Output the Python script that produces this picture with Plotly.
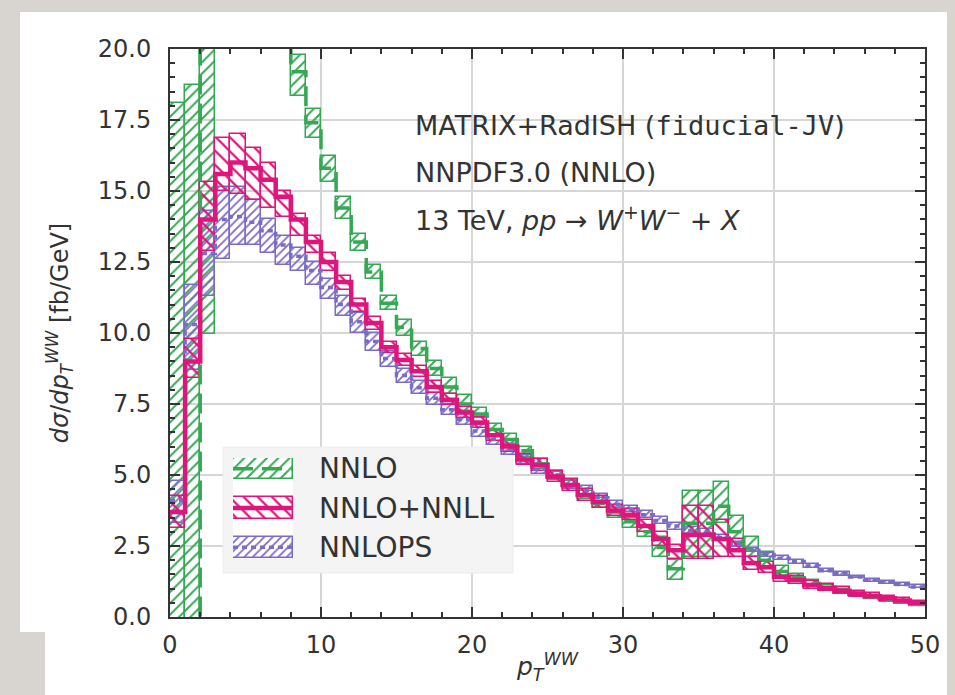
import plotly.graph_objects as go

# ---------------- data ----------------
bin_edges = list(range(0, 51))  # pT^WW bins, 1 GeV wide

# NNLO (green): central, lower, upper
nnlo = [-3.0, -3.0, 26.0, 32.0, 30.0, 27.0, 24.0, 21.5, 19.2, 17.4,
        15.8, 14.4, 13.2, 12.15, 11.05, 10.2, 9.45, 8.75, 8.1, 7.5,
        7.15, 6.6, 6.25, 5.85, 5.4, 5.0, 4.65, 4.3, 4.0, 3.7,
        3.35, 3.0, 2.45, 1.7, 3.3, 3.3, 3.9, 3.0, 2.4, 2.0,
        1.6, 1.38, 1.18, 1.03, 0.9, 0.79, 0.69, 0.6, 0.52, 0.44]
nnlo_lo = [-8.0, -8.0, 9.95, 30.5, 28.5, 25.5, 22.5, 20.6, 18.35, 16.85,
           15.3, 14.0, 12.9, 11.9, 10.8, 9.9, 9.2, 8.5, 7.85, 7.25,
           7.0, 6.4, 6.05, 5.65, 5.2, 4.85, 4.5, 4.15, 3.85, 3.5,
           3.15, 2.8, 2.1, 1.3, 2.1, 2.1, 3.3, 2.6, 2.1, 1.75,
           1.45, 1.25, 1.07, 0.93, 0.81, 0.71, 0.62, 0.54, 0.46, 0.39]
nnlo_hi = [18.1, 18.75, 40.0, 33.5, 31.5, 28.5, 25.5, 22.4, 19.8, 17.9,
           16.25, 14.8, 13.5, 12.4, 11.3, 10.45, 9.7, 9.0, 8.4, 7.8,
           7.35, 6.8, 6.45, 6.0, 5.55, 5.15, 4.8, 4.45, 4.2, 3.85,
           3.5, 3.2, 2.8, 2.0, 4.45, 4.45, 4.75, 3.55, 2.8, 2.3,
           1.78, 1.52, 1.3, 1.14, 1.0, 0.88, 0.77, 0.67, 0.58, 0.5]

# NNLO+NNLL (pink)
nnll = [3.7, 9.0, 14.0, 15.6, 16.0, 15.8, 15.4, 14.8, 14.0, 13.2,
        12.5, 11.8, 11.0, 10.35, 9.5, 9.05, 8.65, 8.1, 7.65, 7.2,
        6.85, 6.4, 6.0, 5.55, 5.35, 4.95, 4.65, 4.3, 4.05, 3.75,
        3.6, 3.2, 2.75, 2.35, 2.9, 2.9, 2.75, 2.35, 1.9, 1.75,
        1.42, 1.3, 1.13, 1.03, 0.92, 0.81, 0.73, 0.66, 0.58, 0.5]
nnll_lo = [3.15, 8.4, 12.9, 15.0, 14.9, 14.7, 14.4, 14.1, 13.4, 12.8,
           12.2, 11.5, 10.75, 10.1, 9.3, 8.85, 8.45, 7.9, 7.45, 7.0,
           6.65, 6.2, 5.8, 5.35, 5.15, 4.75, 4.45, 4.1, 3.85, 3.55,
           3.4, 3.0, 2.5, 2.05, 2.05, 2.05, 2.1, 2.1, 1.65, 1.55,
           1.25, 1.15, 1.0, 0.9, 0.8, 0.7, 0.63, 0.56, 0.49, 0.42]
nnll_hi = [4.25, 9.8, 15.3, 16.85, 17.0, 16.5, 16.0, 15.0, 14.2, 13.4,
           12.8, 12.0, 11.2, 10.55, 9.7, 9.25, 8.85, 8.3, 7.85, 7.4,
           7.05, 6.6, 6.2, 5.75, 5.55, 5.15, 4.85, 4.5, 4.25, 3.95,
           3.8, 3.4, 3.0, 2.55, 3.9, 3.9, 3.4, 2.75, 2.1, 1.95,
           1.58, 1.45, 1.27, 1.16, 1.04, 0.92, 0.83, 0.75, 0.67, 0.58]

# NNLOPS (purple)
nnlops = [4.1, 10.3, 12.8, 14.0, 14.1, 13.9, 13.6, 13.1, 12.7, 12.2,
          11.6, 11.0, 10.4, 9.7, 9.1, 8.5, 8.07, 7.7, 7.3, 6.95,
          6.55, 6.25, 5.9, 5.55, 5.2, 4.97, 4.67, 4.45, 4.2, 3.97,
          3.8, 3.6, 3.4, 3.2, 3.05, 3.0, 2.8, 2.55, 2.35, 2.2,
          2.07, 1.95, 1.8, 1.63, 1.52, 1.41, 1.3, 1.22, 1.14, 1.06]
nnlops_lo = [3.3, 8.7, 11.3, 12.6, 13.1, 13.1, 12.8, 12.4, 12.2, 11.7,
             11.2, 10.6, 10.0, 9.35, 8.8, 8.25, 7.85, 7.45, 7.1, 6.75,
             6.35, 6.05, 5.72, 5.38, 5.05, 4.82, 4.52, 4.3, 4.06, 3.84,
             3.68, 3.48, 3.28, 3.08, 2.94, 2.89, 2.7, 2.47, 2.28, 2.13,
             2.0, 1.88, 1.74, 1.57, 1.46, 1.36, 1.25, 1.17, 1.09, 1.01]
nnlops_hi = [4.8, 11.7, 14.3, 15.15, 15.15, 14.7, 14.0, 13.4, 13.0, 12.5,
             11.9, 11.3, 10.7, 10.0, 9.35, 8.75, 8.3, 7.9, 7.5, 7.15,
             6.75, 6.42, 6.08, 5.72, 5.38, 5.12, 4.82, 4.6, 4.34, 4.1,
             3.92, 3.72, 3.52, 3.32, 3.16, 3.11, 2.9, 2.63, 2.42, 2.27,
             2.14, 2.02, 1.86, 1.69, 1.58, 1.46, 1.35, 1.27, 1.19, 1.11]

legend_labels = ["NNLO", "NNLO+NNLL", "NNLOPS"]
legend_rows = [0, -1, -2]

# ---------------- styling ----------------
FONT = "DejaVu Sans"
TXT = "#333333"
GREEN, PINK, PURPLE = "#35a854", "#e0157b", "#7a6cc5"

W, H = 955, 695
ML, MR, MT, MB = 170, 30, 49, 78
PW, PH = W - ML - MR, H - MT - MB
X_RANGE, Y_RANGE = [0, 50], [0, 20]


def px_x(px):
    return (px - ML) / PW


def px_y(py):
    return (H - MB - py) / PH


def px_to_xdata(px):
    return X_RANGE[0] + px_x(px) * (X_RANGE[1] - X_RANGE[0])


def px_to_ydata(py):
    return Y_RANGE[0] + px_y(py) * (Y_RANGE[1] - Y_RANGE[0])


series = {
    "NNLO": dict(c=nnlo, lo=nnlo_lo, hi=nnlo_hi, color=GREEN, shape="/",
                 size=8, sol=0.25, dash="20px,9px", lw=3.5),
    "NNLO+NNLL": dict(c=nnll, lo=nnll_lo, hi=nnll_hi, color=PINK, shape="\\",
                      size=10, sol=0.22, dash="solid", lw=4.5),
    "NNLOPS": dict(c=nnlops, lo=nnlops_lo, hi=nnlops_hi, color=PURPLE, shape="/",
                   size=6, sol=0.3, dash="5px,4px", lw=3.5),
}
draw_order = ["NNLO", "NNLOPS", "NNLO+NNLL"]

centers = [(a + b) / 2 for a, b in zip(bin_edges[:-1], bin_edges[1:])]
widths = [b - a for a, b in zip(bin_edges[:-1], bin_edges[1:])]


def band_marker(s):
    return dict(
        color=s["color"],
        pattern=dict(shape=s["shape"], size=s["size"], solidity=s["sol"],
                     fgcolor=s["color"], bgcolor="rgba(0,0,0,0)", fillmode="replace"),
        line=dict(color=s["color"], width=1.5),
    )


fig = go.Figure()

# uncertainty bands (hatched boxes per bin)
for name in draw_order:
    s = series[name]
    fig.add_trace(go.Bar(
        x=centers, base=s["lo"], y=[h - l for h, l in zip(s["hi"], s["lo"])],
        width=widths, marker=band_marker(s), name=name,
        showlegend=False, hoverinfo="skip",
    ))

# central step lines
for name in draw_order:
    s = series[name]
    fig.add_trace(go.Scatter(
        x=bin_edges, y=s["c"] + [s["c"][-1]], mode="lines", name=name,
        line=dict(shape="hv", color=s["color"], width=s["lw"], dash=s["dash"]),
        showlegend=False, hoverinfo="skip",
    ))

# custom legend swatches on a small helper subplot
for label, row in zip(legend_labels, legend_rows):
    s = series[label]
    fig.add_trace(go.Bar(
        x=[1], y=[row], base=[0], orientation="h", width=0.54,
        marker=band_marker(s), xaxis="x2", yaxis="y2",
        showlegend=False, hoverinfo="skip",
    ))
    fig.add_trace(go.Scatter(
        x=[0, 1], y=[row, row], mode="lines", xaxis="x2", yaxis="y2",
        line=dict(color=s["color"], width=s["lw"], dash=s["dash"]),
        showlegend=False, hoverinfo="skip",
    ))
    fig.add_annotation(
        x=px_x(317), y=row, xref="paper", yref="y2", text=label,
        showarrow=False, xanchor="left", yanchor="middle",
        font=dict(family=FONT, size=28, color=TXT),
    )

# text block
info_lines = [
    "MATRIX+RadISH (<span style=\"font-family:DejaVu Sans Mono\">fiducial-JV</span>)",
    "NNPDF3.0 (NNLO)",
    "13 TeV, <i>pp</i> → <i>W</i><sup>+</sup><i>W</i><sup>−</sup> + <i>X</i>",
]
info_y = [126, 172, 218]
for txt, py in zip(info_lines, info_y):
    fig.add_annotation(
        x=px_x(413), y=px_y(py), xref="paper", yref="paper", text=txt,
        showarrow=False, xanchor="left", yanchor="middle",
        font=dict(family=FONT, size=27, color=TXT),
    )

# slide-like white background and legend box
fig.add_shape(type="rect", xref="paper", yref="paper", layer="below",
              x0=px_x(20), x1=px_x(947), y0=px_y(632), y1=px_y(12),
              fillcolor="white", line=dict(width=0))
fig.add_shape(type="rect", xref="paper", yref="paper", layer="below",
              x0=px_x(45), x1=px_x(947), y0=px_y(695), y1=px_y(631),
              fillcolor="white", line=dict(width=0))
fig.add_shape(type="rect", xref="x", yref="y", layer="between",
              x0=px_to_xdata(223), x1=px_to_xdata(513),
              y0=px_to_ydata(573), y1=px_to_ydata(447),
              fillcolor="#f4f4f4", line=dict(color="#ececec", width=1))

axis_common = dict(
    showline=True, linecolor="#333333", linewidth=2, mirror="allticks",
    ticks="inside", tickcolor="#333333", tickwidth=2, ticklen=10,
    showgrid=True, gridcolor="#d6d6d6", gridwidth=1.5, zeroline=False,
    tickfont=dict(family=FONT, size=24, color=TXT),
)

fig.update_layout(
    width=W, height=H,
    margin=dict(l=ML, r=MR, t=MT, b=MB),
    paper_bgcolor="#d8d5d0", plot_bgcolor="white",
    barmode="overlay", bargap=0, hovermode=False,
    font=dict(family=FONT, color=TXT),
    showlegend=False,
    xaxis=dict(
        axis_common, range=X_RANGE, tick0=0, dtick=10,
        minor=dict(dtick=2, ticks="inside", ticklen=5, tickwidth=1.5,
                   tickcolor="#333333", showgrid=False),
        ticklabelstandoff=5,
        title=dict(text="<i>p</i><sub><i>T</i></sub><sup><i>WW</i></sup>",
                   font=dict(family=FONT, size=25, color=TXT), standoff=0),
    ),
    yaxis=dict(
        axis_common, range=Y_RANGE, tick0=0, dtick=2.5, tickformat=".1f",
        minor=dict(dtick=0.5, ticks="inside", ticklen=5, tickwidth=1.5,
                   tickcolor="#333333", showgrid=False),
        ticklabelstandoff=12,
        title=dict(text="<i>dσ</i>/<i>dp</i><sub><i>T</i></sub><sup><i>WW</i></sup> [fb/GeV]",
                   font=dict(family=FONT, size=24, color=TXT), standoff=22),
    ),
    xaxis2=dict(domain=[px_x(233), px_x(293)], range=[0, 1], visible=False,
                anchor="y2", fixedrange=True),
    yaxis2=dict(domain=[px_y(558), px_y(458)], range=[-2.27, 0.27], visible=False,
                anchor="x2", fixedrange=True),
)

fig.write_html("out.html", config={"displayModeBar": False},
               post_script="document.body.style.margin='0';")
